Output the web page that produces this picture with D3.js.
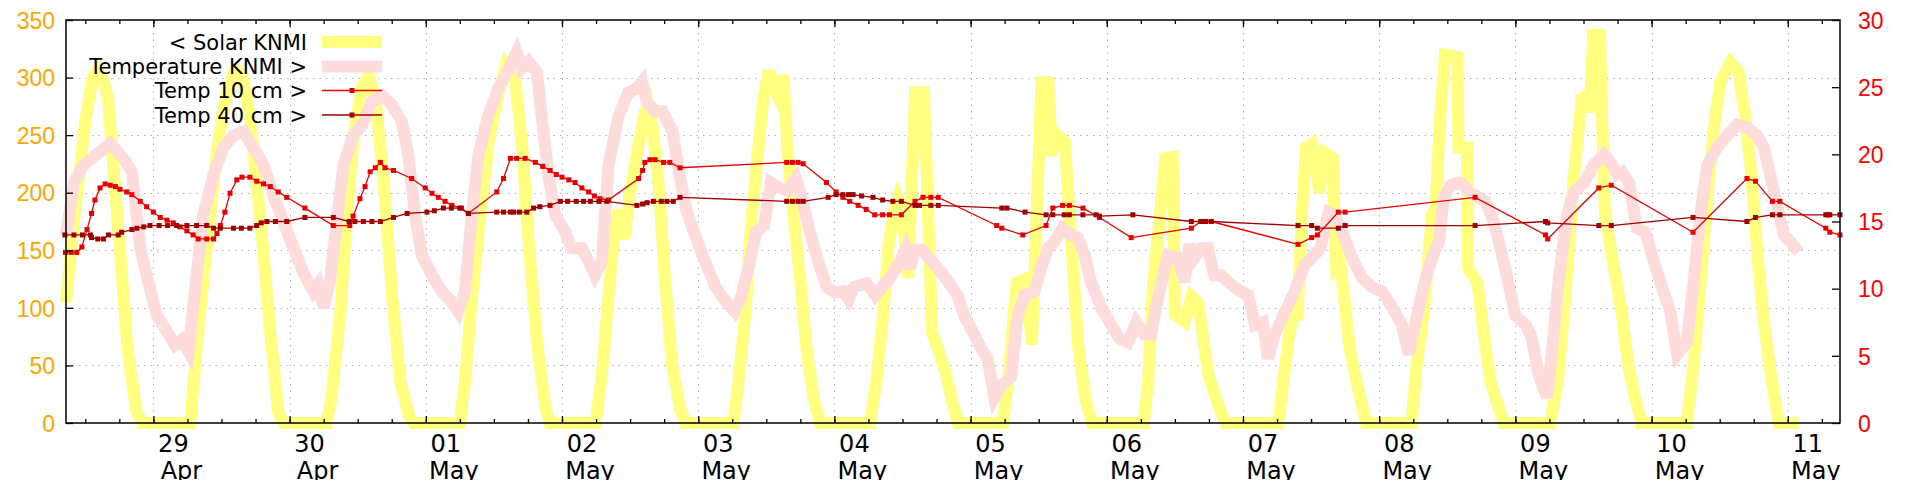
<!DOCTYPE html>
<html><head><meta charset="utf-8">
<script src="https://cdn.jsdelivr.net/npm/d3@7"></script>
<style>
body{margin:0;background:#fff;}
svg{display:block;font-family:"DejaVu Sans",sans-serif;}
</style></head><body>
<svg id="chart" width="1920" height="480"></svg>
<script>
// hours since 28 Apr 00:00
const baseYear = 2024;
const xStartHour = 8.6, xEndHour = 321.2;

const solarKNMI = [[8.6,105],[10,175],[12,262],[13.3,300],[14.1,306],[15.3,296],[16,282],[19.5,62],[21,10],[22,0],[30.5,0],[31.6,65],[33.4,152],[34.9,224],[36.3,273],[38.1,304],[38.7,306],[39.6,302],[41,267],[42.8,180],[44.6,79],[46,10],[46.9,0],[54.5,0],[55.4,22],[56.9,94],[58.1,181],[59.2,244],[60.7,291],[61.9,302],[63.1,282],[64.6,209],[66.1,109],[67.5,36],[69,7],[69.8,0],[78,0],[78.9,36],[80.1,108],[81.6,181],[83.1,244],[84.6,282],[86.1,310],[87.8,296],[89,239],[90.2,152],[91.7,65],[93.1,13],[93.9,0],[101.9,0],[103,40],[104.2,110],[105.2,165],[106,185],[107,160],[108,200],[109.4,239],[110.6,270],[111.2,276],[111.8,262],[113,209],[114.2,122],[115.4,50],[116.8,13],[117.7,0],[126.2,0],[127.1,36],[128.3,94],[129.2,166],[130.3,224],[131.5,282],[132.4,306],[133.2,292],[134.1,283],[135,302],[135.7,240],[136.8,181],[138,122],[139.1,65],[140.3,22],[141.5,0],[150.3,0],[151.4,36],[152.6,94],[153.5,152],[154.4,181],[155.2,195],[156,185],[157,126],[158.2,287],[159.8,287],[161.2,79],[162.6,59],[163.5,45],[164.7,20],[165.8,0],[173.7,0],[174.6,36],[176.1,122],[177.6,125],[178.8,68],[180.5,296],[181.7,296],[182.3,232],[182.9,252],[184.6,244],[185.8,152],[187,65],[188.2,22],[189.4,0],[198.5,0],[199.3,36],[200.2,122],[201.4,181],[202.3,230],[203.6,231],[204,94],[205.7,88],[206.9,110],[208.1,105],[209.9,42],[211.6,16],[212.9,0],[222.2,0],[223.1,36],[224.2,79],[225,94],[225.6,94],[226.4,185],[227.1,239],[228.1,242],[229.5,200],[230.3,235],[231.8,230],[232.4,140],[233,145],[234.8,65],[236,36],[237.7,0],[245.7,0],[246.6,50],[247.8,94],[249.3,181],[249.9,185],[250.8,270],[251.6,320],[253.7,318],[254,239],[255.5,239],[255.6,135],[257.3,122],[258.4,79],[259.6,36],[261.9,0],[270.1,0],[271.5,36],[273,122],[274.2,209],[275.7,282],[276.5,284],[277.1,270],[277.7,337],[278.9,337],[279.3,260],[279.8,181],[281.3,137],[282.8,94],[283.9,50],[285.1,22],[286.2,0],[294.2,0],[295.4,50],[296.6,122],[297.8,195],[298.9,253],[300.1,296],[301.9,313],[303.3,305],[304.5,267],[305.7,209],[306.8,137],[308,79],[309.2,36],[310.4,0],[313.9,0]];

const temperatureKNMI = [[8.6,14.0],[10.0,17.9],[11.7,19.2],[14.0,20.0],[16.4,20.8],[18.7,19.7],[20.2,18.7],[21.7,13.0],[22.8,11.0],[24.6,8.0],[26.4,6.8],[27.8,5.8],[29,6.2],[30.2,5.3],[31.6,11.0],[32.8,15.5],[34.6,18.5],[36.3,20.5],[38.1,21.4],[39.9,21.7],[41.6,20.5],[43.4,19.2],[45.1,17.0],[46.9,15.0],[48.7,13.0],[50.4,11.2],[52.2,9.8],[53,10.3],[54,8.6],[55.1,10.5],[56.3,15.0],[57.5,19.2],[59.2,21.4],[60.8,22.2],[62.5,23.9],[64.3,24.4],[66,23.7],[67.8,22.4],[68.9,20.0],[70.1,15.5],[71.3,12.5],[73.1,11.0],[74.8,9.8],[76.6,9.0],[77.7,8.3],[78.9,9.8],[80.1,15.5],[81.3,20.0],[83,22.9],[84.8,24.9],[86.6,26.3],[88,27.6],[88.9,26.4],[90.1,26.9],[91.6,26.1],[92.4,22.9],[93.6,18.5],[94.8,15.5],[96.6,14.2],[97.7,13.0],[99.5,13.0],[100.7,12.0],[101.8,11.0],[103,12.0],[104.2,19.2],[106,22.9],[107.7,24.6],[109.2,24.9],[110.1,25.4],[110.9,23.9],[112.4,23.2],[113.7,23.2],[115.5,21.7],[116.4,19.2],[117.8,16.0],[119.6,13.8],[121.4,11.8],[123.1,10.1],[124.9,9.0],[126.4,8.3],[127.5,9.3],[129,11.8],[130.2,14.2],[131.6,14.7],[132.8,17.9],[134.3,17.5],[135.7,17.3],[137.2,18.2],[138.4,16.5],[139.5,14.5],[141.3,11.8],[142.7,10.1],[144.2,9.7],[145.6,9.8],[146.5,9.2],[147.4,10.1],[148.8,10.3],[149.7,10.4],[151.2,9.5],[152.3,10.1],[153.8,10.8],[155.3,11.8],[156.5,12.9],[157.3,11.5],[158.2,12.9],[159.4,12.9],[161.2,12.0],[162.9,11.2],[164.7,10.1],[165.7,9.5],[166.9,8.0],[168.6,6.6],[169.8,5.6],[171,4.8],[172.2,1.9],[173.4,2.8],[175.1,3.4],[176.3,8.0],[177.5,9.5],[179.2,9.8],[180.4,11.5],[181.6,13.0],[182.8,13.5],[184.2,14.5],[185.7,14.0],[186.9,13.8],[188.1,12.5],[189.2,10.5],[191,8.6],[192.8,7.3],[194.2,6.3],[195.7,6.0],[197.2,7.5],[198.6,6.6],[199.8,6.6],[201,9.3],[202.8,12.5],[204.5,12.3],[205.7,10.5],[206.6,13.3],[207.4,12.3],[208.6,13.0],[209.8,13.0],[210.9,11.0],[212.1,11.0],[213.9,10.3],[215.6,9.8],[216.9,9.5],[218.1,7.3],[219.5,7.5],[220.4,4.8],[221.6,6.6],[223.4,8.3],[225.1,9.8],[226.9,11.8],[228.1,12.3],[229.6,13.0],[231.1,15.7],[232.2,15.5],[233.5,14.2],[235.2,12.3],[237,10.8],[238.8,10.1],[240.5,9.8],[242.3,8.6],[244,7.3],[245.2,5.1],[246.4,7.5],[247.9,10.3],[249.3,12.3],[250.5,13.5],[251.4,16.8],[252.6,17.7],[254,17.9],[254.9,17.7],[255.8,17.2],[257.5,16.8],[258.7,16.5],[259.9,15.3],[261.1,13.5],[262.2,11.5],[264,8.0],[265.8,7.3],[266.9,6.3],[268.1,3.6],[269.6,1.9],[270.5,5.6],[271.6,10.5],[273.1,15.5],[274.3,17.2],[276.1,17.9],[277.8,19.2],[279.6,20.0],[280.8,19.4],[281.9,18.5],[282.8,18.7],[284,17.9],[285.4,14.5],[286.9,14.2],[288.4,12.0],[290.1,9.8],[291.3,8.3],[292.5,5.1],[294.2,6.0],[295.4,10.5],[296.6,15.5],[297.8,19.2],[299.5,20.5],[301.3,21.4],[303.1,22.2],[304.8,22.0],[306.6,21.4],[307.8,20.5],[308.9,18.5],[310.1,16.2],[311.3,14.0],[312.5,13.5],[313.9,12.7]];

const temp10cm = [[8.5,12.7],[9.5,12.7],[10.5,12.7],[11.4,13.1],[12.3,14.4],[13.1,15.6],[13.7,16.6],[14.6,17.5],[15.5,17.8],[16.4,17.7],[17.3,17.6],[18.1,17.4],[19.3,17.2],[20.2,17.0],[21.7,16.5],[22.8,16.1],[24,15.7],[25.2,15.3],[26.4,15.1],[27.5,14.9],[28.7,14.6],[29.9,14.3],[31,14.0],[31.9,13.7],[33.4,13.7],[34.6,13.7],[35.2,14.1],[35.8,14.7],[36.6,15.7],[37.5,17.1],[38.7,18.1],[39.6,18.3],[41,18.3],[42.2,18.0],[43.4,17.8],[44.6,17.6],[46,17.2],[47.5,16.8],[50.7,16.0],[55.7,14.7],[58.6,14.7],[59.2,15.4],[60.4,16.7],[61.3,17.6],[62.2,18.7],[63.1,19.0],[64,19.4],[64.8,19.0],[66.3,18.8],[69.5,18.2],[71.9,17.5],[73.1,17.1],[74.2,16.8],[75.4,16.5],[76.6,16.2],[78.3,16.0],[79.5,15.6],[84.5,17.2],[85.7,18.2],[86.9,19.7],[88,19.7],[89.5,19.7],[91.3,19.4],[92.6,19.1],[93.9,18.8],[95,18.5],[96,18.3],[97.2,18.1],[98.3,17.9],[99.5,17.5],[100.7,17.2],[101.7,16.9],[102.7,16.7],[104.2,16.6],[109.5,18.2],[110.2,18.8],[110.6,19.4],[111.5,19.6],[112.4,19.6],[113.9,19.4],[115,19.4],[116.8,19.0],[135.6,19.4],[136.6,19.4],[137.6,19.4],[138.5,19.3],[142.6,17.9],[144.3,17.2],[145.5,16.8],[146.7,16.5],[148.2,16.2],[149.6,15.9],[151.1,15.5],[152.5,15.5],[153.7,15.5],[155.8,15.5],[158.2,16.5],[159.6,16.8],[161,16.8],[162.3,16.8],[172.6,14.7],[173.5,14.5],[177.2,14.0],[181.3,14.7],[182.5,16.0],[184.2,16.2],[185.4,16.2],[187.8,16.0],[190.7,15.3],[196.3,13.8],[206.9,14.5],[208.6,15.0],[210.4,15.0],[225.7,13.3],[228.1,13.8],[229.1,14.0],[232.8,15.7],[234,15.7],[256.9,16.8],[269.3,14.0],[269.7,13.7],[278.7,17.5],[280.9,17.7],[295.3,14.2],[304.8,18.2],[306.3,18.0],[309.3,16.5],[310.6,16.5],[318.7,14.5],[319.4,14.2],[321.2,14.0]];

const temp40cm = [[8.4,14.0],[10,14.0],[11.5,14.0],[12.9,14.0],[13.1,13.8],[14.2,13.7],[15.2,13.7],[16.1,14.0],[17.8,14.0],[18.4,14.2],[20.2,14.4],[21.1,14.5],[22.3,14.6],[23.4,14.7],[25,14.7],[26.5,14.7],[28.1,14.7],[29.9,14.7],[31.6,14.7],[33.4,14.7],[34.6,14.5],[35.8,14.5],[38.1,14.5],[39.5,14.5],[41,14.5],[42.2,14.7],[43,14.9],[44,15.0],[45.5,15.0],[47.5,15.0],[50.7,15.3],[55.7,15.3],[58.5,15.0],[59.5,15.0],[61,15.0],[62.5,15.0],[64,15.0],[66.3,15.3],[68.7,15.6],[72.2,15.7],[73.5,15.8],[75.1,16.0],[76.5,16.0],[78,16.0],[79.5,15.6],[84.5,15.7],[85.7,15.7],[86.9,15.7],[87.5,15.7],[88.5,15.7],[89.8,15.7],[91,16.0],[92.1,16.1],[93.9,16.2],[95.7,16.5],[97,16.5],[98.5,16.5],[99.8,16.5],[101,16.5],[102.5,16.5],[103.9,16.5],[109.2,16.2],[110.2,16.3],[111,16.4],[112.1,16.5],[113.5,16.5],[114.5,16.5],[115.6,16.5],[116.8,16.8],[135.6,16.5],[136.6,16.5],[137.6,16.5],[138.5,16.5],[142.9,16.8],[144.3,17.0],[145.5,17.0],[146.5,17.0],[147.3,17.0],[148.8,16.9],[150.8,16.8],[152.5,16.6],[154.3,16.5],[155.8,16.5],[158.2,16.2],[159,16.2],[161,16.2],[162.3,16.2],[173.5,16.0],[174.4,16.0],[177.6,15.7],[181.3,15.5],[182.5,15.5],[184.5,15.5],[185.4,15.5],[187.8,15.5],[190.1,15.5],[190.7,15.4],[196.6,15.5],[206.9,15.0],[208.6,15.0],[209.4,15.0],[210.4,15.0],[225.7,14.7],[228.1,14.7],[229.1,14.5],[232.8,14.5],[234,14.7],[256.9,14.7],[269.3,15.0],[269.7,14.9],[278.7,14.7],[280.9,14.7],[295.3,15.3],[304.8,15.0],[306.3,15.3],[309.3,15.5],[310.6,15.5],[318.7,15.5],[319.1,15.5],[319.4,15.5],[321.2,15.5]];

const solarTicks = [0,50,100,150,200,250,300,350];
const tempTicks = [0,5,10,15,20,25,30];
const legendLabels = ["< Solar KNMI","Temperature KNMI >","Temp 10 cm >","Temp 40 cm >"];
const monthLabels = ["Jan","Feb","Mar","Apr","May","Jun","Jul","Aug","Sep","Oct","Nov","Dec"];

const W = 1920, H = 480;
const M = {left:66, right:1840, top:20, bottom:423};
const C = {solar:"#ffff80", temp:"#ffdcdc", t10:"#e80000", t40:"#a00000", left:"#ffa500", right:"#ff0000", grid:"#b4b4b4"};

const hourToDate = h => new Date(baseYear,3,28,0,0,0).getTime() + h*3600000;
const svg = d3.select("#chart");
const x = d3.scaleTime().domain([new Date(hourToDate(xStartHour)), new Date(hourToDate(xEndHour))]).range([M.left, M.right]);
const yL = d3.scaleLinear().domain([0,350]).range([M.bottom, M.top]);
const yR = d3.scaleLinear().domain([0,30]).range([M.bottom, M.top]);

const days = d3.timeDay.range(x.domain()[0], x.domain()[1]).filter(d=>d>x.domain()[0]);
const sixH = d3.timeHour.every(6).range(x.domain()[0], x.domain()[1]);

// grid
const grid = svg.append("g").attr("stroke", C.grid).attr("stroke-width",1).attr("stroke-dasharray","1.5,5");
grid.selectAll("line.h").data(solarTicks.filter(v=>v>0&&v<350)).join("line")
  .attr("x1",M.left).attr("x2",M.right).attr("y1",d=>Math.round(yL(d))+0.5).attr("y2",d=>Math.round(yL(d))+0.5);
grid.selectAll("line.v").data(days).join("line")
  .attr("y1",M.top).attr("y2",M.bottom).attr("x1",d=>Math.round(x(d))+0.5).attr("x2",d=>Math.round(x(d))+0.5);

const lineL = d3.line().x(d=>x(new Date(hourToDate(d[0])))).y(d=>yL(d[1]));
const lineR = d3.line().x(d=>x(new Date(hourToDate(d[0])))).y(d=>yR(d[1]));

svg.append("path").datum(solarKNMI).attr("d",lineL).attr("fill","none").attr("stroke",C.solar)
  .attr("stroke-width",12).attr("stroke-linejoin","miter").attr("stroke-miterlimit",4);
svg.append("path").datum(temperatureKNMI).attr("d",lineR).attr("fill","none").attr("stroke",C.temp)
  .attr("stroke-width",12).attr("stroke-linejoin","miter").attr("stroke-miterlimit",4);

function pointSeries(data,color){
  const g = svg.append("g");
  g.append("path").datum(data).attr("d",lineR).attr("fill","none").attr("stroke",color).attr("stroke-width",1.3);
  g.selectAll("rect").data(data).join("rect")
    .attr("x",d=>x(new Date(hourToDate(d[0])))-2.5).attr("y",d=>yR(d[1])-2.5)
    .attr("width",5).attr("height",5).attr("fill",color);
}
pointSeries(temp10cm, C.t10);
pointSeries(temp40cm, C.t40);

// axes
const axL = svg.append("g").attr("transform",`translate(${M.left},0)`)
  .call(d3.axisLeft(yL).tickValues(solarTicks).tickSize(-7).tickPadding(11));
axL.selectAll("text").attr("fill",C.left).style("font-size","23px").attr("dy","0.36em");
const axR = svg.append("g").attr("transform",`translate(${M.right},0)`)
  .call(d3.axisRight(yR).tickValues(tempTicks).tickSize(-8).tickPadding(18));
axR.selectAll("text").attr("fill",C.right).style("font-size","23px").attr("dy","0.36em");
const axB = svg.append("g").attr("transform",`translate(0,${M.bottom})`)
  .call(d3.axisBottom(x).tickValues(days).tickSize(-7).tickFormat(""));
const axBm = svg.append("g").attr("transform",`translate(0,${M.bottom})`)
  .call(d3.axisBottom(x).tickValues(sixH).tickSize(-4).tickFormat(""));
const axT = svg.append("g").attr("transform",`translate(0,${M.top})`)
  .call(d3.axisTop(x).tickValues(days).tickSize(-7).tickFormat(""));
const axTm = svg.append("g").attr("transform",`translate(0,${M.top})`)
  .call(d3.axisTop(x).tickValues(sixH).tickSize(-4).tickFormat(""));
[axL,axR,axB,axBm,axT,axTm].forEach(a=>{a.select(".domain").remove(); a.selectAll("line").attr("stroke","#000").attr("stroke-width",1.3);});

// date labels
const lab = svg.append("g").style("font-size","24px").attr("fill","#000").attr("text-anchor","middle");
lab.selectAll("text.d").data(days).join("text").attr("x",d=>x(d)+20).attr("y",452).text(d=>d3.timeFormat("%d")(d));
lab.selectAll("text.m").data(days).join("text").attr("x",d=>x(d)+28).attr("y",479).text(d=>monthLabels[d.getMonth()]);

// border
svg.append("rect").attr("x",M.left).attr("y",M.top).attr("width",M.right-M.left).attr("height",M.bottom-M.top)
  .attr("fill","none").attr("stroke","#000").attr("stroke-width",1.5);

// legend
const lg = svg.append("g").style("font-size","21px");
const rowsY = [42,66.5,90.5,115];
lg.selectAll("text").data(legendLabels).join("text").attr("x",307).attr("y",(d,i)=>rowsY[i]).attr("dy","0.36em")
  .attr("text-anchor","end").attr("fill","#000").text(d=>d);
const sampleStyle = [{c:C.solar,w:12,m:false},{c:C.temp,w:12,m:false},{c:C.t10,w:1.3,m:true},{c:C.t40,w:1.3,m:true}];
sampleStyle.forEach((s,i)=>{
  lg.append("line").attr("x1",322).attr("x2",382).attr("y1",rowsY[i]).attr("y2",rowsY[i]).attr("stroke",s.c).attr("stroke-width",s.w);
  if(s.m) lg.append("rect").attr("x",352-2.5).attr("y",rowsY[i]-2.5).attr("width",5).attr("height",5).attr("fill",s.c);
});
</script>
</body></html>
